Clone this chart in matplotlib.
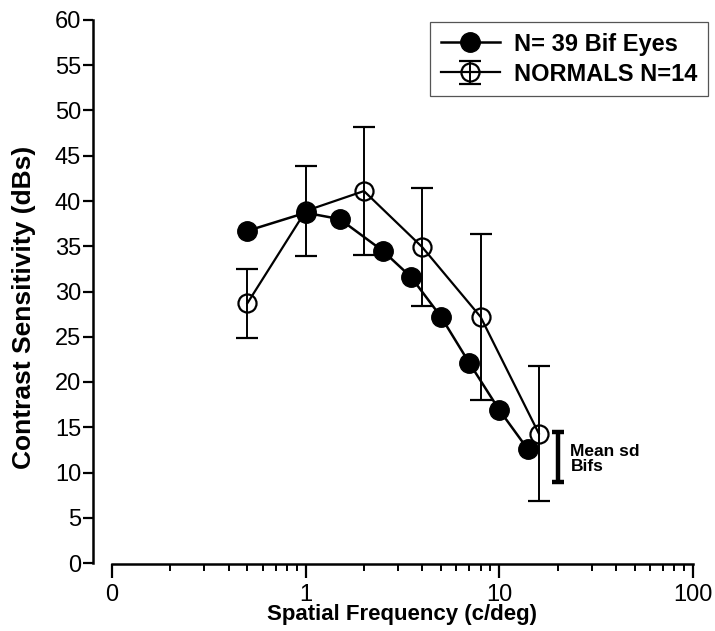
import numpy as np
import matplotlib
matplotlib.use("Agg")
import matplotlib.pyplot as plt
from matplotlib.ticker import FixedLocator, NullFormatter

plt.rcParams['font.family'] = ['Liberation Sans', 'DejaVu Sans']

# --- data ---
bif_freq = [0.5, 1, 1.5, 2.5, 3.5, 5, 7, 10, 14]
bif_cs = [36.7, 38.7, 38.0, 34.5, 31.6, 27.2, 22.1, 16.9, 12.6]

norm_freq = [0.5, 1, 2, 4, 8, 16]
norm_cs = [28.7, 38.9, 41.1, 34.9, 27.2, 14.3]
norm_sd = [3.8, 4.95, 7.1, 6.55, 9.2, 7.5]

# mean sd for bifs (scale bar)
meansd_x = 20
meansd_lo = 8.9
meansd_hi = 14.5

xtick_vals = [0.1, 1, 10, 100]
xtick_labels = ['0', '1', '10', '100']
ytick_vals = np.arange(0, 61, 5)

fig = plt.figure(figsize=(7.15, 6.31), dpi=100)
ax = fig.add_axes([93/715, (631-563)/631, 600/715, 543/631])

ax.set_xscale('log')
ax.set_xlim(0.0798, 100)
ax.set_ylim(0, 60)

# normals: open circles with error bars
eb = ax.errorbar(norm_freq, norm_cs, yerr=norm_sd, fmt='-o', color='black',
                 mfc='none', mec='black', mew=1.6, ms=13, lw=1.6,
                 elinewidth=1.4, capsize=8, capthick=1.6, zorder=2,
                 label='NORMALS N=14')
# bifs: filled circles
ln, = ax.plot(bif_freq, bif_cs, '-o', color='black', ms=14, lw=1.8,
              zorder=3, label='N= 39 Bif Eyes')

# mean sd bar
ax.errorbar([meansd_x], [(meansd_lo + meansd_hi) / 2],
            yerr=[(meansd_hi - meansd_lo) / 2], fmt='none', ecolor='black',
            elinewidth=3.2, capsize=4, capthick=3.2)
ax.text(23.3, (meansd_lo + meansd_hi) / 2 - 0.2, 'Mean sd\nBifs', fontsize=12.5,
        fontweight='bold', va='center', ha='left', linespacing=0.95)

# spines, prism style
for s in ['top', 'right']:
    ax.spines[s].set_visible(False)
ax.spines['left'].set_linewidth(1.8)
ax.spines['bottom'].set_linewidth(1.8)
ax.spines['bottom'].set_bounds(0.1, 100)
ax.spines['bottom'].set_position(('outward', 1))

ax.xaxis.set_major_locator(FixedLocator(xtick_vals))
ax.set_xticklabels(xtick_labels)
minors = [m * d for d in [0.1, 1, 10] for m in range(2, 10)]
ax.xaxis.set_minor_locator(FixedLocator(minors))
ax.xaxis.set_minor_formatter(NullFormatter())
ax.tick_params(axis='x', which='major', length=10, width=1.6, labelsize=17, pad=4)
ax.tick_params(axis='x', which='minor', length=5, width=1.4)

ax.set_yticks(ytick_vals)
ax.tick_params(axis='y', which='major', length=7, width=1.6, labelsize=17, pad=1.5)

ax.set_xlabel('Spatial Frequency (c/deg)', fontsize=16, fontweight='bold')
ax.xaxis.set_label_coords(0.515, -0.076)
ax.set_ylabel('Contrast Sensitivity (dBs)', fontsize=19, fontweight='bold')
ax.yaxis.set_label_coords(-0.095, 0.47)

leg = ax.legend(handles=[ln, eb], loc='upper right',
                bbox_to_anchor=(708/715, 1 - 22/631), bbox_transform=fig.transFigure,
                prop={'weight': 'bold', 'size': 17},
                fancybox=False, edgecolor='#555555', framealpha=1,
                handlelength=2.5, borderpad=0.45, labelspacing=0.3,
                handletextpad=0.6, borderaxespad=0)
leg.get_frame().set_linewidth(0.9)

fig.savefig('out.png', dpi=100)
